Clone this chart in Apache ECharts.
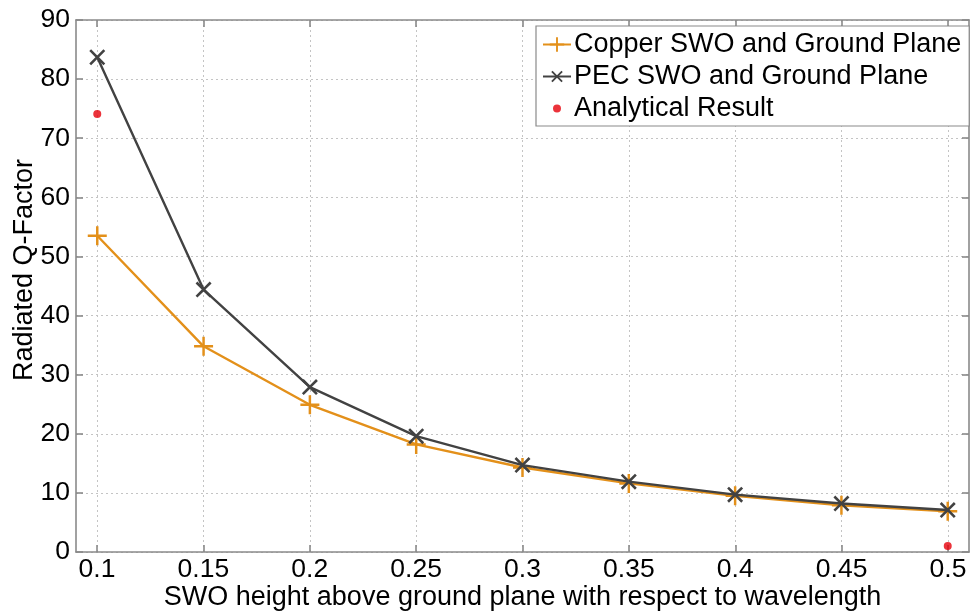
<!DOCTYPE html>
<html>
<head>
<meta charset="utf-8">
<script src="https://cdn.jsdelivr.net/npm/echarts@6/dist/echarts.min.js"></script>
<style>
html,body{margin:0;padding:0;background:#fff;}
#chart{width:971px;height:613px;}
</style>
</head>
<body>
<div id="chart"></div>
<script>
const xValues = [0.1, 0.15, 0.2, 0.25, 0.3, 0.35, 0.4, 0.45, 0.5];
const copper = [53.5, 34.8, 24.9, 18.2, 14.3, 11.6, 9.5, 7.9, 6.9];
const pec = [83.7, 44.4, 27.9, 19.6, 14.7, 11.9, 9.7, 8.2, 7.1];
const analyticalX = [0.1, 0.5];
const analyticalY = [74.1, 1.0];
const xTickMin = 0.1, xTickMax = 0.5, xTickStep = 0.05;
const yTickMin = 0, yTickMax = 90, yTickStep = 10;

const FONT = 'Liberation Sans, Arial, sans-serif';
const FS = 26.5;
const AXIS_COLOR = '#8a8a8a';
const GRID_COLOR = '#c4c4c4';
const COPPER_COLOR = '#e3901a';
const PEC_COLOR = '#424242';
const RED = '#e6000a';
const plusPath = 'path://M8.7,0 H11.3 V8.7 H20 V11.3 H11.3 V20 H8.7 V11.3 H0 V8.7 H8.7 Z';
const dotIcon = 'path://M0,0 L0.01,0 L0,0.01 Z M28,18 L27.99,18 L28,17.99 Z M10,9 A4,4 0 1,0 18,9 A4,4 0 1,0 10,9 Z';

const chart = echarts.init(document.getElementById('chart'), null, {renderer: 'canvas'});

const frameX = {
  type: 'value', min: 0.09, max: 0.51, gridIndex: 0,
  axisLine: {show: true, onZero: false, lineStyle: {color: AXIS_COLOR, width: 1.6}},
  axisTick: {show: false}, axisLabel: {show: false}, splitLine: {show: false}
};

const option = {
  animation: false,
  backgroundColor: '#fff',
  textStyle: {fontFamily: FONT},
  grid: [
    {left: 76, right: 2, top: 20, bottom: 61, containLabel: false, outerBoundsMode: 'none'},
    {left: 97, right: 23, top: 20, bottom: 61, containLabel: false, outerBoundsMode: 'none'}
  ],
  legend: {
    orient: 'vertical',
    left: 536, top: 26,
    padding: [5, 8, 4, 6],
    itemGap: 5,
    itemWidth: 28, itemHeight: 18,
    backgroundColor: '#fff',
    borderColor: '#8a8a8a', borderWidth: 1.2, borderRadius: 0,
    textStyle: {fontSize: 27, color: '#000', fontFamily: FONT, lineHeight: 27, padding: [0, 0, 0, -2]},
    data: [
      {name: 'Copper SWO and Ground Plane'},
      {name: 'PEC SWO and Ground Plane'},
      {name: 'Analytical Result', icon: dotIcon}
    ]
  },
  xAxis: [
    Object.assign({position: 'bottom'}, frameX),
    Object.assign({position: 'top'}, frameX),
    {
      type: 'value', gridIndex: 1, position: 'bottom',
      min: xTickMin, max: xTickMax, interval: xTickStep,
      name: 'SWO height above ground plane with respect to wavelength',
      nameLocation: 'middle', nameGap: 32, nameMoveOverlap: false,
      nameTextStyle: {fontSize: 27, color: '#000', fontFamily: FONT},
      axisLine: {show: false, onZero: false},
      axisTick: {show: true, inside: true, length: 7, lineStyle: {color: AXIS_COLOR, width: 1.6}},
      axisLabel: {show: true, fontSize: FS, color: '#000', fontFamily: FONT, margin: 4,
        formatter: v => String(+v.toFixed(2))},
      splitLine: {show: true, lineStyle: {color: GRID_COLOR, type: [2, 3], width: 1}}
    },
    {
      type: 'value', gridIndex: 1, position: 'top',
      min: xTickMin, max: xTickMax, interval: xTickStep,
      axisLine: {show: false, onZero: false},
      axisTick: {show: true, inside: true, length: 7, lineStyle: {color: AXIS_COLOR, width: 1.6}},
      axisLabel: {show: false}, splitLine: {show: false}
    }
  ],
  yAxis: [
    {
      type: 'value', gridIndex: 0, position: 'left',
      min: yTickMin, max: yTickMax, interval: yTickStep,
      name: 'Radiated Q-Factor', nameLocation: 'middle', nameGap: 38, nameMoveOverlap: false,
      nameTextStyle: {fontSize: 27, color: '#000', fontFamily: FONT, padding: [0, 0, 0, 32]},
      axisLine: {show: true, onZero: false, lineStyle: {color: AXIS_COLOR, width: 1.6}},
      axisTick: {show: true, inside: true, length: 7, lineStyle: {color: AXIS_COLOR, width: 1.6}},
      axisLabel: {show: true, fontSize: FS, color: '#000', fontFamily: FONT, margin: 6},
      splitLine: {show: true, lineStyle: {color: GRID_COLOR, type: [2, 3], width: 1}}
    },
    {
      type: 'value', gridIndex: 0, position: 'right',
      min: yTickMin, max: yTickMax, interval: yTickStep,
      axisLine: {show: true, onZero: false, lineStyle: {color: AXIS_COLOR, width: 1.6}},
      axisTick: {show: true, inside: true, length: 7, lineStyle: {color: AXIS_COLOR, width: 1.6}},
      axisLabel: {show: false}, splitLine: {show: false}
    },
    {
      type: 'value', gridIndex: 1, min: yTickMin, max: yTickMax, show: false
    }
  ],
  series: [
    {
      name: 'Copper SWO and Ground Plane', type: 'line',
      xAxisIndex: 0, yAxisIndex: 0,
      data: xValues.map((x, i) => [x, copper[i]]),
      symbol: plusPath, symbolSize: 19,
      lineStyle: {color: COPPER_COLOR, width: 2.4},
      itemStyle: {color: COPPER_COLOR},
      z: 3
    },
    {
      name: 'PEC SWO and Ground Plane', type: 'line',
      xAxisIndex: 0, yAxisIndex: 0,
      data: xValues.map((x, i) => [x, pec[i]]),
      symbol: plusPath, symbolSize: 20, symbolRotate: 45,
      lineStyle: {color: PEC_COLOR, width: 2.4},
      itemStyle: {color: PEC_COLOR},
      z: 4
    },
    {
      name: 'Analytical Result', type: 'scatter',
      xAxisIndex: 0, yAxisIndex: 0,
      data: analyticalX.map((x, i) => [x, analyticalY[i]]),
      symbol: 'circle', symbolSize: 8,
      itemStyle: {color: RED},
      z: 5
    }
  ]
};
chart.setOption(option);
</script>
</body>
</html>
